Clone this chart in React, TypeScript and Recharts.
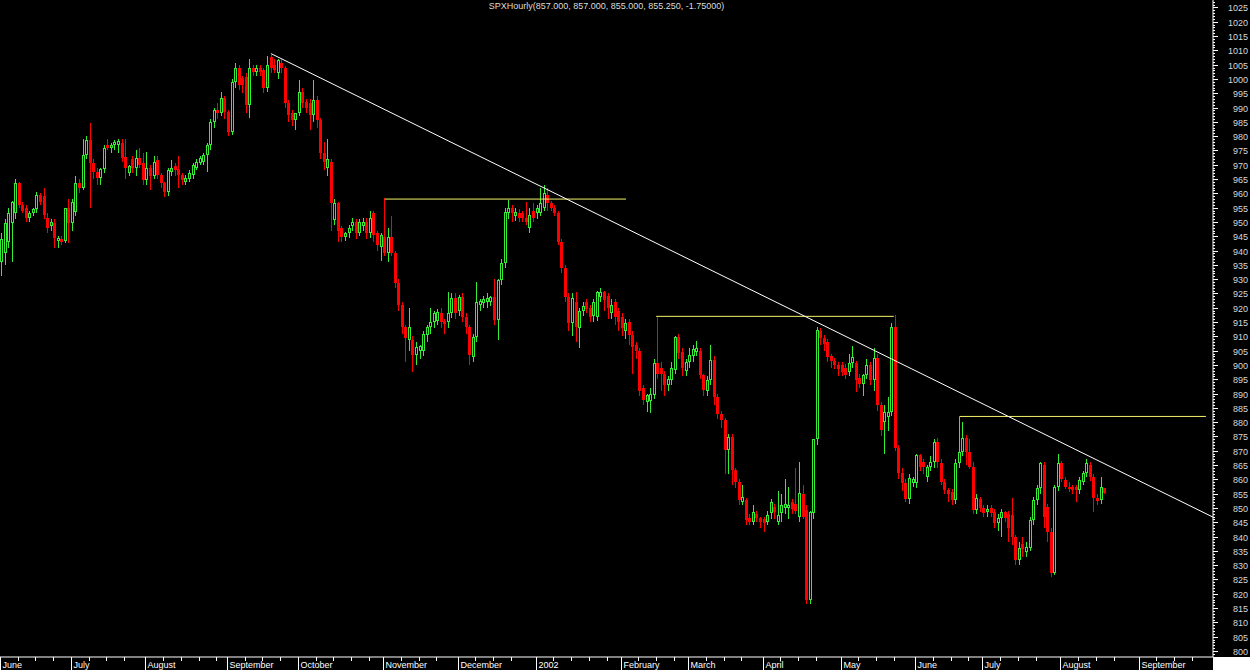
import { ComposedChart, Bar, XAxis, YAxis, ReferenceLine } from 'recharts';

// open, high, low, close — one row per bar, grouped by month
type Candle = [number, number, number, number];

const jun01: Candle[] = [
  [936, 946, 931, 944], [939, 951, 935, 949.5], [943, 955, 941, 953], [949.5, 957.5, 936, 957],
  [953, 965, 951, 963.5], [963.5, 964, 955, 956], [956, 957, 953, 954], [955, 956, 950, 951.5],
  [951.5, 954, 950, 953], [953, 955, 952, 954.5], [954.5, 960.5, 953, 959.5], [959.5, 960, 956, 957],
  [959, 962, 951, 952.3], [951.5, 953, 946, 948], [948.5, 951, 947, 950], [949.5, 951, 941, 944.5],
  [943.5, 945, 941, 944.5], [944, 945, 942, 943], [943.5, 955, 942.5, 954.8], [954.8, 958, 942.5, 949.6],
];
const jul01: Candle[] = [
  [949.6, 958, 947, 957], [953.4, 966, 952, 963.5], [963.5, 965, 960, 962], [962, 979, 961, 973.3],
  [973.3, 980, 972, 978.5], [978.5, 984.5, 955, 970.5], [970.5, 972, 965, 967.4], [967.4, 969, 963, 965.3],
  [965.3, 969, 963, 968.4], [968.4, 977, 967, 976], [976.8, 979, 975, 975.8], [975.8, 977.5, 974, 976.8],
  [977, 978.5, 975, 978], [977, 979, 974, 978.2], [977.5, 979, 971, 972.3], [972.6, 979, 965, 969],
  [967, 970, 966, 969.5], [972, 973, 967, 969], [969, 975, 966, 972.3], [972.3, 976, 969, 969.8],
  [970.5, 974, 962.8, 964.6],
];
const aug01: Candle[] = [
  [964.6, 974.3, 963, 968.8], [968.8, 970, 961, 966], [966, 973, 965, 971], [971.6, 973, 965, 966.3],
  [966.3, 967, 962, 963.5], [963.5, 964, 958.7, 960.4], [960.4, 969, 959, 968], [967.4, 971.5, 966, 969],
  [969.5, 970.5, 966, 968], [968.5, 973, 962, 966.3], [966.3, 967, 963, 964.5], [964, 966.5, 963, 965.3],
  [965, 968, 964, 967], [966.3, 970.5, 965, 969.8], [969, 972, 968, 971], [970.5, 973, 970, 972.3],
  [971, 974, 970, 973.3], [973.3, 977.5, 967.6, 976.8], [976.8, 986, 975, 984.8], [984.8, 990, 983, 989],
  [989, 991.5, 986, 988], [988, 995.4, 987, 993.2], [993.2, 994, 986, 988.3],
];
const sep01: Candle[] = [
  [988.3, 989, 980, 981.4], [981.4, 1000, 980.5, 998.8], [998.8, 1005.5, 997, 1003.7], [1003.7, 1005, 996, 997.8],
  [1000.2, 1001, 995, 997.8], [1000.6, 1002, 988, 990.8], [990.8, 1007, 986.5, 1003.7], [1003.7, 1005, 1001, 1002.5],
  [1002.5, 1005, 1001, 1003.7], [1003.7, 1005, 1001, 1002.5], [1003, 1004, 995, 996.7], [996.7, 1008, 995.5, 1004.8],
  [1007.6, 1009, 1002, 1003.7], [1004.8, 1007, 1002, 1003], [1002, 1007, 1000, 1006.5], [1005.7, 1007, 1002, 1003.7],
  [1003.7, 1004.5, 990, 991.5], [991.5, 992.5, 985, 987.3], [988, 989, 983.5, 985.6], [985.6, 988, 982, 988],
];
const oct01: Candle[] = [
  [988, 999.5, 987, 995.4], [995.4, 997, 990, 991.5], [992, 993, 988, 990], [991.5, 993, 982, 987.3],
  [987.3, 999.5, 985, 992.5], [992.5, 994, 983, 985.6], [985.6, 986.5, 972, 974], [974, 978, 968, 971],
  [969, 979, 966, 972], [971, 972, 947, 956.5], [950.6, 958, 949, 956.5], [956.5, 957, 943, 947],
  [947.8, 948.5, 943, 944.6], [944.6, 946.5, 943.5, 946], [946, 949, 944.5, 948], [948.5, 951.5, 947, 950],
  [950, 951, 944, 946], [946, 951, 945, 950], [948.5, 951.5, 947, 950], [950, 951.5, 944, 946],
  [946, 954, 944.5, 951.3], [953, 954, 943, 945.3], [946, 947, 940, 941.8], [941.1, 946, 936.5, 945.3],
];
const nov01: Candle[] = [
  [944.6, 958.3, 938, 939], [939, 947.8, 936, 944.6], [944.6, 952, 938, 939], [939, 940, 927, 928.6],
  [928.6, 930, 919, 921], [921, 922, 911, 913.2], [913.2, 914, 901, 909.4], [908.7, 920, 905, 913.2],
  [908.7, 910, 897.5, 903.4], [903.4, 908, 900, 906.3], [905, 907, 902, 906.5], [905, 912, 903, 911],
  [910.4, 914, 908, 913.2], [913.2, 920, 911, 915], [915, 919, 913, 918], [915.5, 919.5, 914, 918.5],
  [918, 920, 913, 915], [915.5, 916, 911, 914.2], [915, 925.4, 913, 918], [918, 925, 916.5, 923.3],
  [923.3, 925, 916, 918.3],
];
const dec01: Candle[] = [
  [919, 924.5, 917, 923.7], [923.7, 925, 915, 916.7], [916.7, 918, 911, 913.2], [913.2, 914, 900, 903.4],
  [902.8, 911, 901, 909.8], [909.8, 929, 908, 922], [921, 923, 919, 922.5], [921.5, 924, 920, 923],
  [922, 925, 920, 923.5], [922, 924, 920.5, 923.7], [923.7, 930, 914, 915.6], [915.6, 930, 908.7, 929.6],
  [929.6, 937, 928, 935.5], [935.5, 955, 934, 953.4], [953, 957.6, 951, 955], [955, 956, 950, 953],
  [952, 955, 950.5, 953.5], [953, 954.5, 950, 951.5], [953, 954, 950, 951.5], [951.5, 957, 949, 950],
  [948, 955, 946, 952.5], [954, 956.5, 950, 951.5],
];
const jan02: Candle[] = [
  [953, 956, 951, 955], [953, 962, 952, 956.5], [955, 962.8, 954, 960], [959.3, 962, 954, 956.5],
  [956.5, 957.5, 954, 955], [955, 956, 952, 953], [953, 954, 942, 943], [943, 944, 932, 934],
  [934, 935, 922, 923.7], [923.7, 925, 912, 914.6], [914.6, 925, 910, 923.3], [922, 925.6, 908, 913.2],
  [913, 920, 906, 919], [919, 922, 917, 920.5], [922, 923, 918, 919.5], [919.8, 921, 915, 916.7],
  [917, 923, 915, 922], [916.7, 926, 915.5, 925.4], [923.7, 927, 922, 925.4], [925.4, 926, 919, 922.7],
  [924, 925, 916, 920], [918, 923, 916, 921], [922, 923, 914, 916.7], [919, 920, 912, 915],
];
const feb02: Candle[] = [
  [916.7, 918, 910, 912.8], [912, 916, 909, 914.6], [915, 916, 907, 910.4], [910.4, 912, 897, 906.3],
  [907, 908, 902, 905], [905, 906, 889, 891], [891.8, 893, 886, 887.7], [887, 890, 883.5, 889.4],
  [887.5, 892, 883.3, 890], [889.4, 902, 888, 900.6], [900.6, 916.7, 895, 897], [899, 901, 891, 897],
  [897, 898, 889, 893], [893, 896, 891, 895], [894.6, 901, 893, 898.8], [898.1, 910, 897, 909.8],
  [909.8, 911, 902, 904.2], [904.5, 906, 896, 898.8], [898, 902, 896, 901],
];
const mar02: Candle[] = [
  [901, 906, 899, 903.5], [903, 907, 901, 905.5], [904.5, 908.5, 903, 906], [905, 906, 895, 896.4],
  [896.4, 897, 889, 891.1], [891, 896, 889, 894.6], [894.6, 907, 893, 901.6], [901.6, 903, 886, 888.7],
  [888.7, 890, 881, 883], [883, 884, 878, 880.7], [880.7, 881.5, 862, 870.2], [870.2, 876, 862, 874.7],
  [874.7, 876, 858, 863.3], [863.3, 864, 857, 859], [859, 860, 851, 852.7], [852, 858, 851, 854],
  [852.7, 853.5, 844, 845.8], [846.5, 848, 844, 845], [845, 851, 844, 848.5], [848, 849, 845, 846.5],
  [846.5, 847, 843, 845],
];
const apr02: Candle[] = [
  [846, 847, 841.5, 844.8], [845, 849, 844, 847.5], [848.1, 853, 846, 852], [850.5, 851.5, 846, 848.5],
  [845, 856, 844, 847.5], [848.1, 855, 845, 851], [850, 860, 848, 851.5], [850, 857.3, 846, 851],
  [852, 853, 848, 849.5], [851.5, 864, 848, 849], [846.8, 866, 845, 855.2], [855, 858, 846, 846.8],
  [849.2, 851, 816.6, 817.8], [818, 849, 816.6, 848.5], [848.1, 874, 846, 874], [874, 913.2, 872, 912.2],
  [912, 913, 907, 909.4], [909.4, 910.5, 905, 907.5], [908, 909, 901, 902.7], [903, 904, 899, 901.5],
  [901.5, 902.5, 898.5, 900], [900, 901, 896, 898.5],
];
const may02: Candle[] = [
  [900, 901, 896, 897.5], [899, 900.5, 895, 896.5], [897.5, 904, 896, 900.6], [900.6, 906.5, 899, 902.7],
  [900.6, 901.5, 890.5, 894.6], [895.5, 897, 892, 893.5], [893.5, 897, 889, 896.5], [896.5, 902, 895, 900],
  [900, 901, 893, 894.6], [894.6, 906, 891, 902.4], [902.4, 904, 884, 885.9], [885.9, 887, 875, 877.2],
  [880, 886, 869, 883.5], [881.7, 888.7, 877, 883.5], [883.5, 914.6, 882, 913.2], [913.2, 917.4, 870, 871],
  [871, 872, 860, 862.4], [862.4, 864, 856, 858.9], [858.9, 860, 852, 853.1], [853.1, 862, 851.5, 860.6],
  [858.9, 861, 857.5, 860],
];
const jun02: Candle[] = [
  [858.9, 869, 857, 868.4], [868.4, 869, 863, 864.3], [866, 867, 862, 864.3], [860.8, 865, 859, 864.3],
  [864.3, 868, 863, 866], [866, 874, 864, 873], [873, 874.5, 864, 866], [865.7, 867, 858, 859],
  [859, 860, 855, 856.2], [856.2, 857, 852, 855], [855.5, 856.5, 851, 852.7], [852.7, 867, 851.5, 865.7],
  [865.7, 881.7, 864, 869.6], [869.6, 880, 868, 874.3], [874.3, 875.5, 865, 869.6], [869.6, 874, 863.5, 864.3],
  [864.3, 866, 848, 849.2], [849.2, 855, 848, 853.4], [853, 854, 848.5, 850],
];
const jul02: Candle[] = [
  [850, 851, 847, 848.1], [848.5, 851, 847, 849.5], [850, 851, 847, 848.1], [848.5, 849.5, 843, 844.7],
  [844.7, 848, 842, 846.5], [846.5, 849.5, 840, 848.5], [848.5, 849, 845, 846.5], [848, 849, 838, 843],
  [847.5, 853.4, 837, 839.7], [839.7, 840.5, 830, 831.8], [831.8, 838, 830, 836], [837.5, 840, 833, 835.5],
  [834.5, 838, 833, 836.5], [836, 847, 835, 845.8], [845.8, 854, 844, 852.7], [852.7, 858, 851, 857],
  [857, 866, 855, 865.7], [865, 866, 843, 846.8], [850.3, 851.5, 838, 841.6], [841.6, 843, 825.8, 827.3],
  [827.3, 858, 826.5, 857.3], [857.3, 869, 856, 865.7],
];
const aug02: Candle[] = [
  [865.7, 866.5, 859, 860], [859.7, 861, 856.5, 857.3], [857.5, 859, 855.5, 856.5], [857.3, 858, 855, 856.2],
  [857.3, 858, 852, 856.2], [856.2, 861, 855, 859.7], [859, 863, 858, 862.4], [862.4, 867, 861, 865.7],
  [865, 866, 859.5, 860.8], [860.8, 862, 848.5, 853.4], [853.4, 855, 851, 852.4], [852.7, 860.7, 851.5, 857.3],
  [857, 857, 855, 855.25],
];

const months = [jun01, jul01, aug01, sep01, oct01, nov01, dec01, jan02, feb02, mar02, apr02, may02, jun02, jul02, aug02];
const monthLabels = ['June', 'July', 'August', 'September', 'October', 'November', 'December', '2002',
  'February', 'March', 'April', 'May', 'June', 'July', 'August', 'September'];
// trading-day slots still to come after the last bar
const aug02Slots = 22;
const sep02Slots = 21;

const title = 'SPXHourly(857.000, 857.000, 855.000, 855.250, -1.75000)';
const trendLine = [{ x: 76.5, y: 1008.8 }, { x: 342, y: 846.8 }];
const resistance = [
  { from: 108.5, to: 176.5, level: 958 },
  { from: 185, to: 252, level: 917 },
  { from: 270.5, to: 340, level: 882 },
];

const GREEN = '#33ee33';
const RED = '#ff0000';
const FONT = '"Liberation Sans", Arial, sans-serif';

const candles = months.flat().map((c, i) => ({
  x: i + 0.5,
  range: [c[2], c[1]],
  o: c[0], h: c[1], l: c[2], c: c[3],
}));

const monthStarts: number[] = [];
let acc = 0;
months.forEach((m) => { monthStarts.push(acc); acc += m.length; });
const aug02Start = monthStarts[monthStarts.length - 1];
monthStarts.push(aug02Start + aug02Slots);
const domainEnd = aug02Start + aug02Slots + sep02Slots;

// weekly minor ticks inside each month
const weekTicks: number[] = [];
monthStarts.forEach((s, k) => {
  const next = k + 1 < monthStarts.length ? monthStarts[k + 1] : domainEnd;
  for (let t = s + 5; t < next - 2; t += 5) weekTicks.push(t);
});
const xTicks = [...monthStarts, ...weekTicks].sort((a, b) => a - b);

const yTicks: number[] = [];
for (let v = 798; v <= 1027; v++) yTicks.push(v);

const CandleShape = (props: any) => {
  const { x, y, width, height, payload } = props;
  if (!payload || height == null) return null;
  const top = Math.min(y, y + height);
  const bot = Math.max(y, y + height);
  const span = payload.h - payload.l;
  const py = (v: number) => (span > 0 ? top + ((payload.h - v) / span) * (bot - top) : top);
  const px = Math.floor(x + width / 2);
  const up = payload.c >= payload.o;
  const bTop = Math.round(py(Math.max(payload.o, payload.c)));
  const bBot = Math.max(bTop + 1, Math.round(py(Math.min(payload.o, payload.c))));
  const hi = Math.round(top);
  const lo = Math.round(bot);
  if (up) {
    return (
      <g>
        <line x1={px + 0.5} x2={px + 0.5} y1={hi} y2={bTop} stroke={GREEN} />
        <line x1={px + 0.5} x2={px + 0.5} y1={bBot} y2={lo} stroke={GREEN} />
        <rect x={px - 0.5} y={bTop + 0.5} width={2} height={Math.max(bBot - bTop - 1, 0)} fill="none" stroke={GREEN} />
      </g>
    );
  }
  return (
    <g>
      <line x1={px + 0.5} x2={px + 0.5} y1={hi} y2={lo} stroke={RED} />
      <rect x={px - 1} y={bTop} width={3} height={bBot - bTop} fill={RED} />
    </g>
  );
};

const MonthTick = (props: any) => {
  const { x, y, payload } = props;
  const k = monthStarts.indexOf(payload.value);
  const xx = Math.round(x) + 0.5;
  if (k < 0) {
    return <line x1={xx} x2={xx} y1={y} y2={y + 4} stroke="#ffffff" />;
  }
  return (
    <g>
      <line x1={xx} x2={xx} y1={y} y2={y + 13} stroke="#ffffff" />
      <text x={xx + 2} y={y + 11} fontSize={9} fill="#ffffff" fontFamily={FONT} textAnchor="start">
        {monthLabels[k]}
      </text>
    </g>
  );
};

const PriceTick = (props: any) => {
  const { x, y, payload } = props;
  const v = payload.value;
  const major = v % 5 === 0;
  const yy = Math.round(y) + 0.5;
  return (
    <g>
      <line x1={x} x2={x + (major ? 5 : 2)} y1={yy} y2={yy} stroke="#ffffff" />
      {major && (
        <text x={x + 35} y={yy + 3} fontSize={9} fill="#d8d8d8" fontFamily={FONT} textAnchor="end">
          {v}
        </text>
      )}
    </g>
  );
};

const App = () => {
  return (
    <div style={{ position: 'absolute', left: 0, top: 0, width: 1250, height: 670, background: '#000000' }}>
      <ComposedChart width={1250} height={670} data={candles} margin={{ top: 0, right: 0, bottom: 0, left: 0 }}>
        <XAxis
          dataKey="x"
          type="number"
          domain={[0, domainEnd]}
          ticks={xTicks}
          interval={0}
          tick={(p: any) => <MonthTick {...p} />}
          tickLine={false}
          tickSize={0}
          tickMargin={0}
          axisLine={{ stroke: '#ffffff' }}
          height={13}
          allowDataOverflow
        />
        <YAxis
          orientation="right"
          type="number"
          domain={[797.9, 1027.6]}
          ticks={yTicks}
          interval={0}
          tick={(p: any) => <PriceTick {...p} />}
          tickLine={false}
          tickSize={0}
          tickMargin={0}
          width={37}
          axisLine={{ stroke: '#ffffff' }}
          allowDataOverflow
        />
        <Bar dataKey="range" shape={(p: any) => <CandleShape {...p} />} barSize={3} isAnimationActive={false} />
        {resistance.map((r, i) => (
          <ReferenceLine
            key={i}
            segment={[{ x: r.from, y: r.level }, { x: r.to, y: r.level }]}
            stroke="#f4f46a"
            strokeWidth={1}
            ifOverflow="visible"
          />
        ))}
        <ReferenceLine segment={trendLine} stroke="#ffffff" strokeWidth={1} ifOverflow="visible" />
      </ComposedChart>
      <div
        style={{
          position: 'absolute', left: 0, top: 0, width: 1213, textAlign: 'center',
          fontFamily: FONT, fontSize: 9, lineHeight: '13px', color: '#dcdcdc',
        }}
      >
        {title}
      </div>
      <div style={{ position: 'absolute', left: 1213, top: 657, width: 37, height: 13, background: '#ffffff' }} />
    </div>
  );
};

export default App;
